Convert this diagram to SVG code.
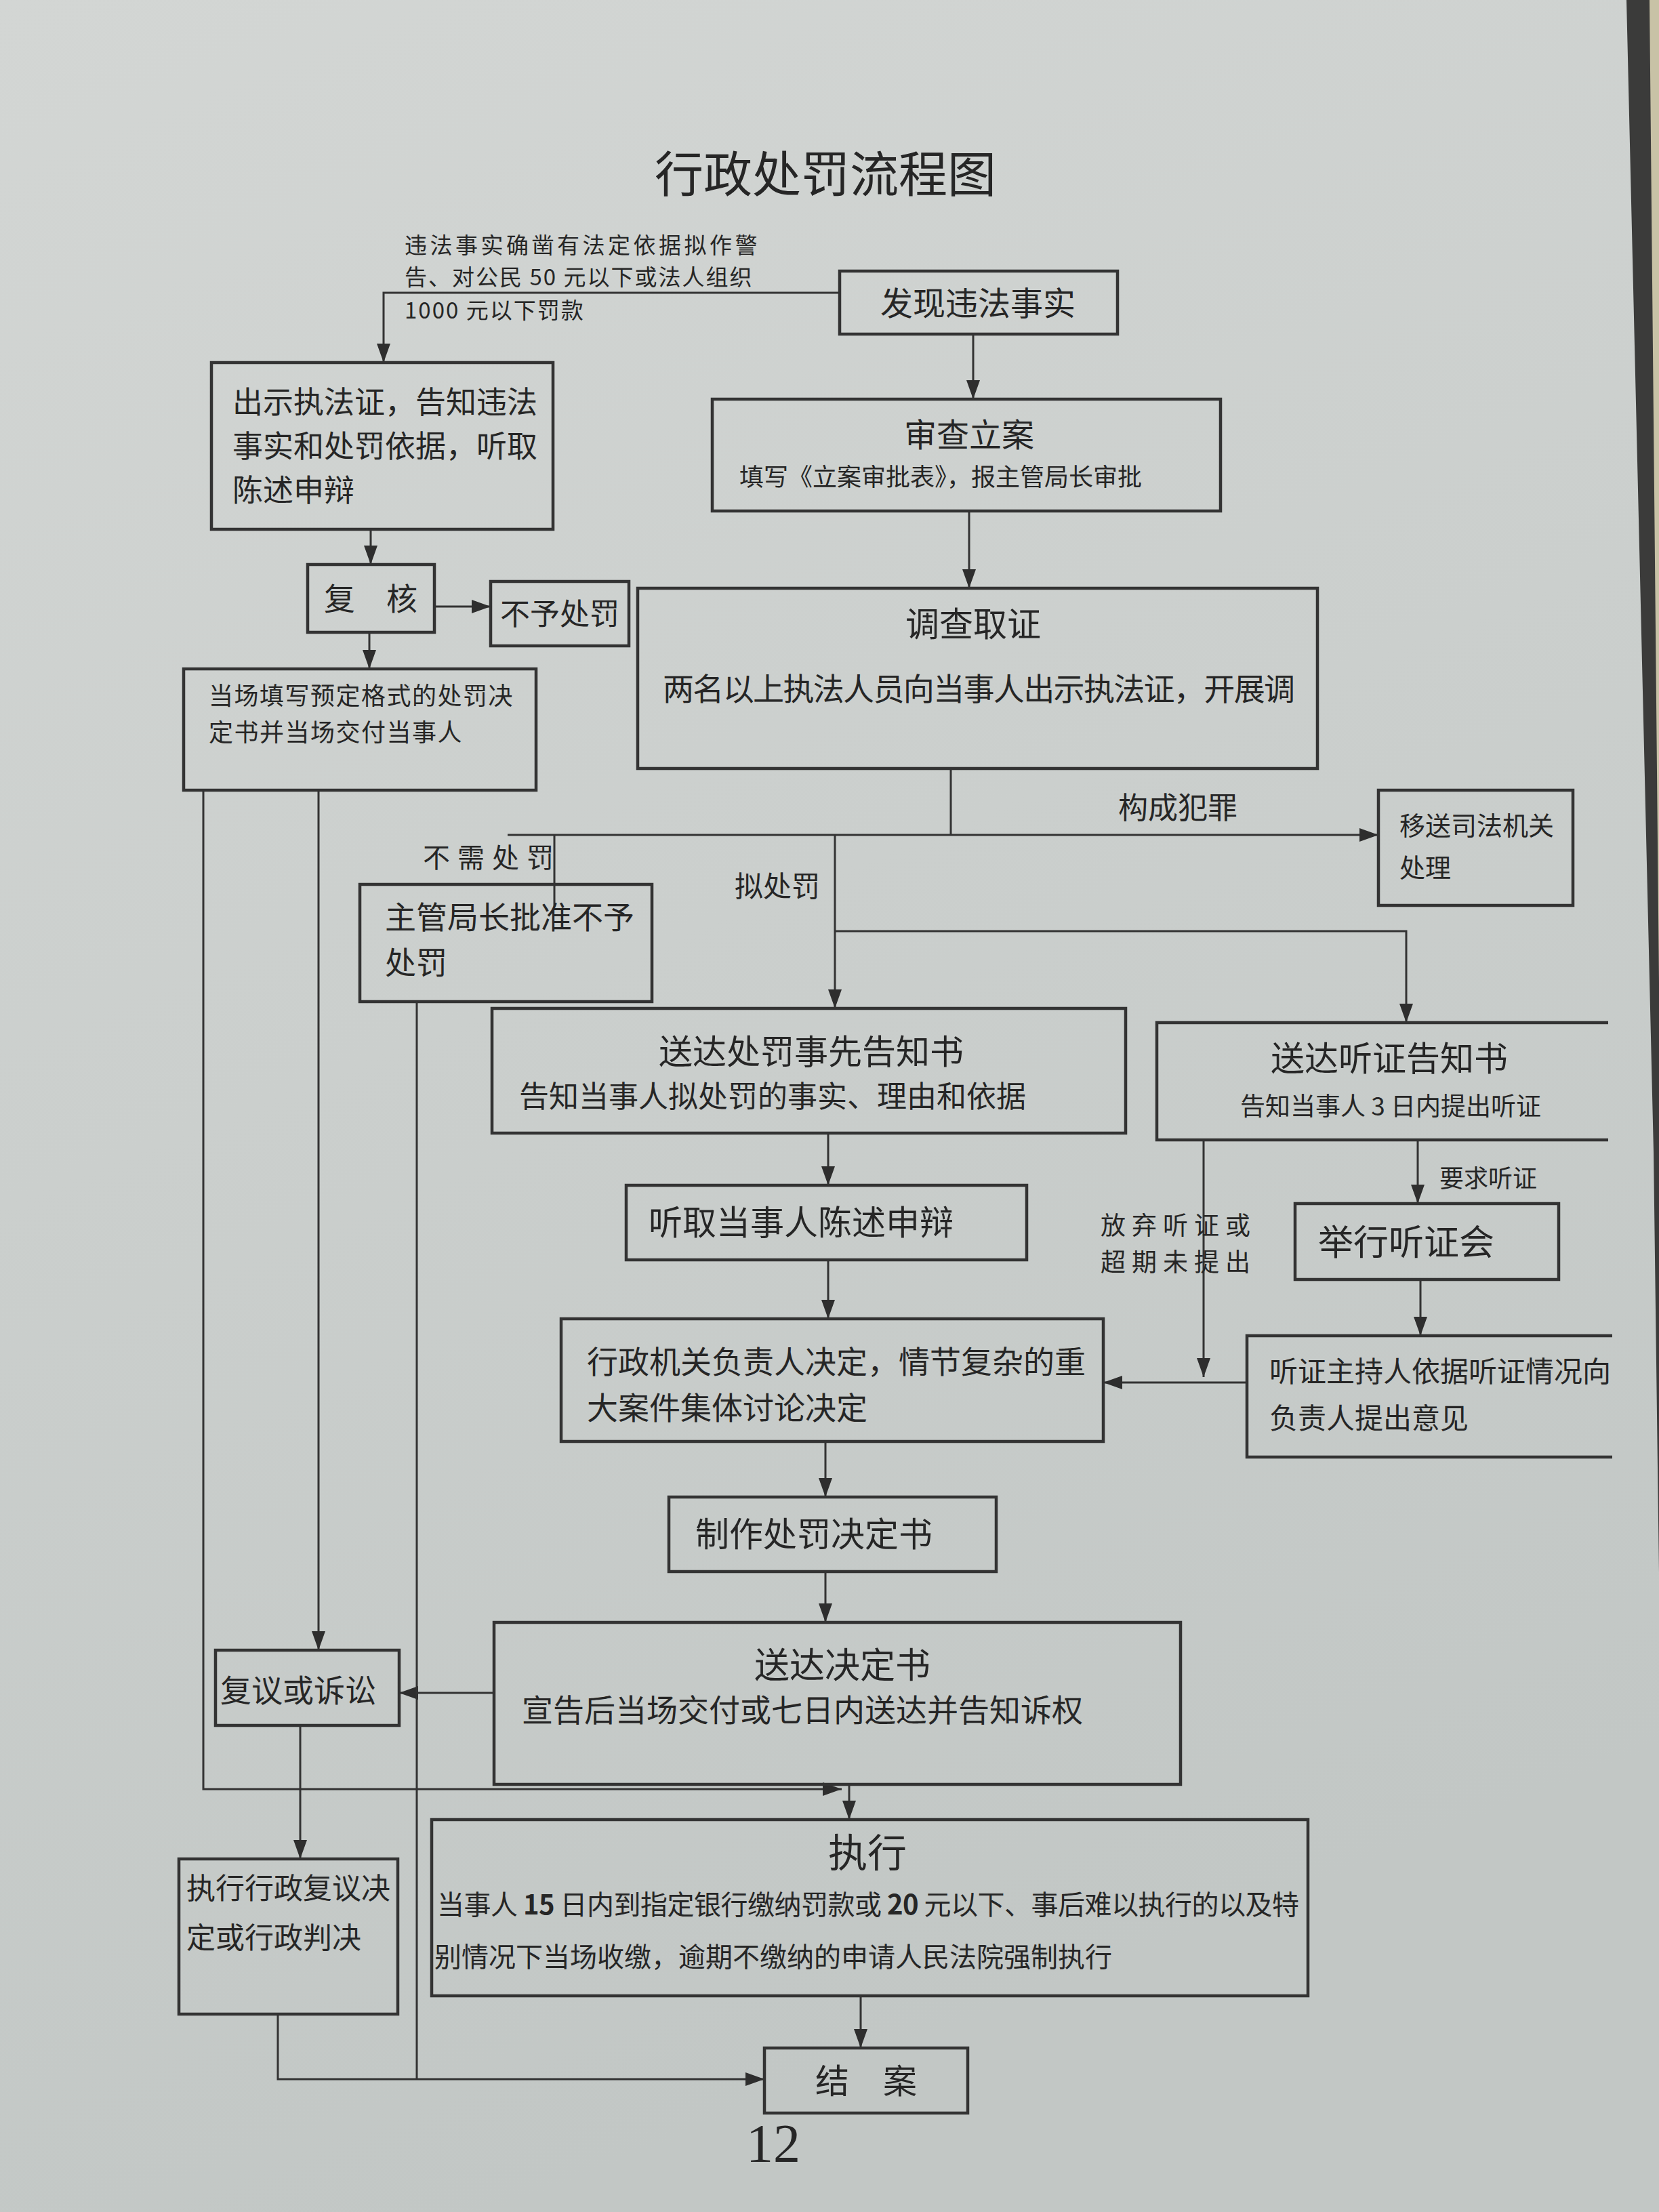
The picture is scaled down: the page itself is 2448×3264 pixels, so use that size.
<svg xmlns="http://www.w3.org/2000/svg" width="2448" height="3264" viewBox="0 0 2448 3264">
<defs>
<linearGradient id="paper" x1="0" y1="0" x2="0.3" y2="1">
<stop offset="0" stop-color="#d3d6d4"/>
<stop offset="0.5" stop-color="#cbcfcd"/>
<stop offset="1" stop-color="#c2c7c5"/>
</linearGradient>
<marker id="ah" markerUnits="userSpaceOnUse" markerWidth="28" markerHeight="20" refX="28" refY="10" orient="auto">
<path d="M0,0 L28,10 L0,20 z" fill="#2e2e2e"/>
</marker>
<style>
.box{fill:none;stroke:#333;stroke-width:4.5}
.ln{fill:none;stroke:#333;stroke-width:3}
.ar{fill:none;stroke:#333;stroke-width:3;marker-end:url(#ah)}
text{font-family:"Noto Sans CJK SC","Liberation Sans",sans-serif;fill:#262626}
.c{text-anchor:middle}
.pg{font-family:"Liberation Serif",serif}
</style>
</defs>
<rect width="2448" height="3264" fill="url(#paper)"/>
<polygon points="2432,0 2448,0 2448,1500" fill="#c8c2a6"/>
<polygon points="2400,0 2434,0 2448,1450 2448,2320 2440,1700" fill="#3b3b3a"/>

<text x="1218" y="283" class="c" font-size="72">行政处罚流程图</text>

<g id="connectors">
<path class="ar" d="M1239,432 H566 V535"/>
<path class="ar" d="M1436,493 V589"/>
<path class="ar" d="M1430,754 V868"/>
<path class="ar" d="M547,781 V833"/>
<path class="ar" d="M641,895 H724"/>
<path class="ar" d="M545,933 V987"/>
<path class="ln" d="M1403,1134 V1232"/>
<path class="ar" d="M749,1232 H2034"/>
<path class="ln" d="M818,1232 V1338"/>
<path class="ar" d="M1232,1232 V1488"/>
<path class="ar" d="M1232,1374 H2075 V1509"/>
<path class="ar" d="M1222,1672 V1749"/>
<path class="ar" d="M1222,1859 V1946"/>
<path class="ar" d="M2092,1682 V1776"/>
<path class="ar" d="M1776,1682 V2032"/>
<path class="ar" d="M2096,1888 V1971"/>
<path class="ar" d="M1840,2040 H1628"/>
<path class="ar" d="M1218,2127 V2209"/>
<path class="ar" d="M1218,2319 V2394"/>
<path class="ar" d="M729,2498 H589"/>
<path class="ar" d="M1253,2633 V2685"/>
<path class="ar" d="M300,1166 V2640 H1242"/>
<path class="ar" d="M470,1166 V2435"/>
<path class="ln" d="M615,1478 V3068"/>
<path class="ar" d="M443,2546 V2743"/>
<path class="ar" d="M410,2972 V3068 H1128"/>
<path class="ar" d="M1270,2945 V3022"/>
<text x="597" y="374" font-size="33" letter-spacing="4.5">违法事实确凿有法定依据拟作警</text>
<text x="597" y="421" font-size="33" letter-spacing="2">告、对公民 50 元以下或法人组织</text>
<text x="597" y="470" font-size="33" letter-spacing="2">1000 元以下罚款</text>
<text x="1738" y="1208" class="c" font-size="44">构成犯罪</text>
<text x="624" y="1280" font-size="40" letter-spacing="11">不需处罚</text>
<text x="1147" y="1323" class="c" font-size="42">拟处罚</text>
<text x="2196" y="1752" class="c" font-size="36">要求听证</text>
<text x="1624" y="1822" font-size="37" letter-spacing="9">放弃听证或</text>
<text x="1624" y="1876" font-size="37" letter-spacing="9">超期未提出</text>
</g>

<g id="n-faxian">
<rect class="box" x="1239" y="400" width="410" height="93"/>
<text x="1443" y="465" class="c" font-size="48">发现违法事实</text>
</g>

<g id="n-shencha">
<rect class="box" x="1051" y="589" width="750" height="165"/>
<text x="1430" y="659" class="c" font-size="48">审查立案</text>
<text x="1388" y="717" class="c" font-size="36">填写《立案审批表》，报主管局长审批</text>
</g>

<g id="n-chushi">
<rect class="box" x="312" y="535" width="504" height="246"/>
<text x="343" y="610" font-size="45">出示执法证，告知违法</text>
<text x="343" y="675" font-size="45">事实和处罚依据，听取</text>
<text x="343" y="740" font-size="45">陈述申辩</text>
</g>

<g id="n-fuhe">
<rect class="box" x="454" y="833" width="187" height="100"/>
<text x="547" y="900" class="c" font-size="46">复　核</text>
</g>

<g id="n-buyu">
<rect class="box" x="724" y="858" width="204" height="95"/>
<text x="826" y="922" class="c" font-size="44">不予处罚</text>
</g>

<g id="n-diaocha">
<rect class="box" x="941" y="868" width="1003" height="266"/>
<text x="1436" y="939" class="c" font-size="50">调查取证</text>
<text x="978" y="1033" font-size="46" textLength="933">两名以上执法人员向当事人出示执法证，开展调</text>
</g>

<g id="n-dangchang">
<rect class="box" x="271" y="987" width="520" height="179"/>
<text x="308" y="1040" font-size="36" letter-spacing="1.5">当场填写预定格式的处罚决</text>
<text x="308" y="1094" font-size="36" letter-spacing="1.5">定书并当场交付当事人</text>
</g>

<g id="n-yisong">
<rect class="box" x="2034" y="1166" width="287" height="170"/>
<text x="2065" y="1232" font-size="38">移送司法机关</text>
<text x="2065" y="1294" font-size="38">处理</text>
</g>

<g id="n-zhuguan">
<rect class="box" x="531" y="1305" width="431" height="173"/>
<text x="568" y="1370" font-size="46">主管局长批准不予</text>
<text x="568" y="1437" font-size="46">处罚</text>
</g>

<g id="n-shixian">
<rect class="box" x="726" y="1488" width="935" height="184"/>
<text x="1197" y="1570" class="c" font-size="50">送达处罚事先告知书</text>
<text x="1140" y="1634" class="c" font-size="44">告知当事人拟处罚的事实、理由和依据</text>
</g>

<g id="n-tingzheng">
<path class="box" d="M2373,1509 H1707 V1682 H2373"/>
<text x="2050" y="1580" class="c" font-size="50">送达听证告知书</text>
<text x="2052" y="1646" class="c" font-size="37">告知当事人 3 日内提出听证</text>
</g>

<g id="n-tingqu">
<rect class="box" x="924" y="1749" width="591" height="110"/>
<text x="1182" y="1822" class="c" font-size="50">听取当事人陈述申辩</text>
</g>

<g id="n-juxing">
<rect class="box" x="1911" y="1776" width="389" height="112"/>
<text x="2075" y="1852" class="c" font-size="52">举行听证会</text>
</g>

<g id="n-zhuchi">
<path class="box" d="M2379,1971 H1840 V2150 H2379"/>
<text x="1873" y="2039" font-size="42">听证主持人依据听证情况向</text>
<text x="1873" y="2108" font-size="42">负责人提出意见</text>
</g>

<g id="n-jueding">
<rect class="box" x="828" y="1946" width="800" height="181"/>
<text x="866" y="2026" font-size="46">行政机关负责人决定，情节复杂的重</text>
<text x="866" y="2094" font-size="46">大案件集体讨论决定</text>
</g>

<g id="n-zhizuo">
<rect class="box" x="987" y="2209" width="483" height="110"/>
<text x="1201" y="2282" class="c" font-size="50">制作处罚决定书</text>
</g>

<g id="n-songda">
<rect class="box" x="729" y="2394" width="1013" height="239"/>
<text x="1243" y="2476" class="c" font-size="52">送达决定书</text>
<text x="770" y="2540" font-size="46">宣告后当场交付或七日内送达并告知诉权</text>
</g>

<g id="n-fuyi">
<rect class="box" x="318" y="2435" width="271" height="111"/>
<text x="325" y="2511" font-size="46">复议或诉讼</text>
</g>

<g id="n-zhixing">
<rect class="box" x="637" y="2685" width="1293" height="260"/>
<text x="1280" y="2755" class="c" font-size="58">执行</text>
<text x="645" y="2825" font-size="40" textLength="1272">当事人 <tspan font-weight="bold">15</tspan> 日内到指定银行缴纳罚款或 <tspan font-weight="bold">20</tspan> 元以下、事后难以执行的以及特</text>
<text x="641" y="2902" font-size="40">别情况下当场收缴，逾期不缴纳的申请人民法院强制执行</text>
</g>

<g id="n-fuyijueding">
<rect class="box" x="264" y="2743" width="323" height="229"/>
<text x="275" y="2802" font-size="43">执行行政复议决</text>
<text x="275" y="2875" font-size="43">定或行政判决</text>
</g>

<g id="n-jiean">
<rect class="box" x="1128" y="3022" width="300" height="96"/>
<text x="1278" y="3089" class="c" font-size="50">结　案</text>
</g>

<text x="1141" y="3190" class="c pg" font-size="80">12</text>
</svg>
